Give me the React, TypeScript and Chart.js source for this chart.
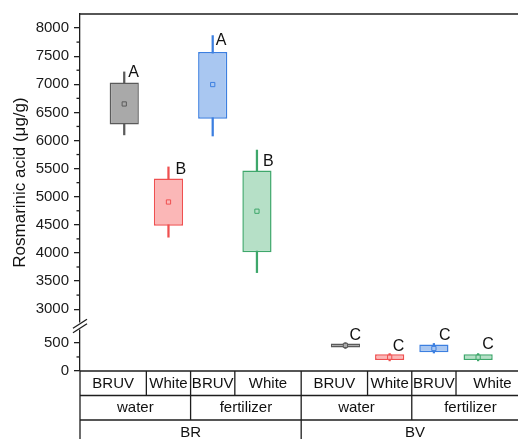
import { useEffect, useRef } from 'react';
import { Chart, registerables } from 'chart.js';

Chart.register(...registerables);

// ---------------- data ----------------
const categories = ['BRUV', 'White', 'BRUV', 'White', 'BRUV', 'White', 'BRUV', 'White'];
const treatments = ['water', 'water', 'fertilizer', 'fertilizer', 'water', 'water', 'fertilizer', 'fertilizer'];
const cultivars = ['BR', 'BR', 'BR', 'BR', 'BV', 'BV', 'BV', 'BV'];

const whiskerMin = [6100, 4280, 6080, 3650, 400, 180, 320, 180];
const boxLow = [6283, 4482, 6389, 4010, 420, 195, 335, 195];
const boxHigh = [7030, 5325, 7576, 5465, 490, 297, 470, 300];
const whiskerMax = [7220, 5530, 7866, 5830, 505, 310, 490, 310];
const means = [6650, 4906, 6995, 4742, 455, 245, 400, 245];
const letters = ['A', 'B', 'A', 'B', 'C', 'C', 'C', 'C'];

const yTopTicks = [3000, 3500, 4000, 4500, 5000, 5500, 6000, 6500, 7000, 7500, 8000];
const yTopMinor = [3250, 3750, 4250, 4750, 5250, 5750, 6250, 6750, 7250, 7750];
const yBotTicks = [0, 500];
const yBotMinor = [250];
const yTopRange = [2700, 8250];
const yBotRange = [0, 800];
const breakValue = 800;

const yTitle = 'Rosmarinic acid (μg/g)';

// ---------------- style ----------------
const FONT = '"Liberation Sans", Arial, Helvetica, sans-serif';
const INK = '#1e1e1e';
const fills = ['#a9a9a9', '#fbb7b7', '#a9c7f1', '#b6e0c7'];
const strokes = ['#5a5a5a', '#ef5050', '#3c7fe0', '#3ea76b'];
const LETTER_DX = [4, 7, 3, 6, 4, 3, 5, 4];
const LETTER_DY = [5, 7, 9, 16, -3, -3, -3, -5];
const ROW_H = 24.5;
const X_MAX = 10.15;

// x positions: one slot per category, with an empty slot between cultivar groups
const groupIndex: number[] = [];
cultivars.forEach((c, i) => {
  const prev = i === 0 ? 0 : groupIndex[i - 1] + (c !== cultivars[i - 1] ? 1 : 0);
  groupIndex.push(prev);
});
const xPos = categories.map((_, i) => i + 1 + groupIndex[i]);
const colorIdx = categories.map((_, i) => (treatments[i] === 'water' ? 0 : 2) + (categories[i] === 'White' ? 1 : 0));
const axisOf = (i: number) => (whiskerMax[i] > breakValue ? 'yTop' : 'yBot');

function makeDatasets(axis: string) {
  const idx = categories.map((_, i) => i).filter((i) => axisOf(i) === axis);
  return [
    {
      type: 'bar',
      yAxisID: axis,
      data: idx.map((i) => ({ x: xPos[i], y: [whiskerMin[i], whiskerMax[i]] })),
      backgroundColor: idx.map((i) => strokes[colorIdx[i]]),
      borderWidth: 0,
      barThickness: 1.6,
      grouped: false,
      order: 3,
    },
    {
      type: 'bar',
      yAxisID: axis,
      data: idx.map((i) => ({ x: xPos[i], y: [boxLow[i], boxHigh[i]] })),
      backgroundColor: idx.map((i) => fills[colorIdx[i]]),
      borderColor: idx.map((i) => strokes[colorIdx[i]]),
      borderWidth: 1.5,
      borderSkipped: false,
      barPercentage: 0.66,
      categoryPercentage: 1,
      grouped: false,
      order: 2,
    },
    {
      type: 'scatter',
      yAxisID: axis,
      data: idx.map((i) => ({ x: xPos[i], y: means[i] })),
      pointStyle: 'rect',
      radius: 3,
      borderWidth: 1,
      borderColor: idx.map((i) => strokes[colorIdx[i]]),
      backgroundColor: idx.map((i) => fills[colorIdx[i]]),
      order: 1,
    },
  ];
}

function cellRuns(labels: string[], parents: string[][]) {
  const runs: { label: string; a: number; b: number }[] = [];
  labels.forEach((l, i) => {
    const last = runs[runs.length - 1];
    const sameParent = i > 0 && parents.every((p) => p[i] === p[i - 1]);
    if (last && sameParent && labels[i - 1] === l) last.b = i;
    else runs.push({ label: l, a: i, b: i });
  });
  return runs;
}
const leftEdge = (i: number) => (i === 0 ? 0 : (xPos[i - 1] + xPos[i]) / 2);
const rightEdge = (i: number) => (i === xPos.length - 1 ? X_MAX : (xPos[i] + xPos[i + 1]) / 2);

const overlay = {
  id: 'overlay',
  afterDraw(chart: any) {
    const { ctx, chartArea: ca, scales } = chart;
    const xs = scales.x;
    const yT = scales.yTop;
    const yB = scales.yBot;
    ctx.save();
    ctx.strokeStyle = INK;
    ctx.lineWidth = 1.3;
    const line = (x1: number, y1: number, x2: number, y2: number) => {
      ctx.beginPath();
      ctx.moveTo(x1, y1);
      ctx.lineTo(x2, y2);
      ctx.stroke();
    };
    // top frame
    line(ca.left, ca.top, ca.right + 5, ca.top);
    // minor ticks
    yTopMinor.forEach((v) => {
      const py = yT.getPixelForValue(v);
      line(ca.left - 3.5, py, ca.left, py);
    });
    yBotMinor.forEach((v) => {
      const py = yB.getPixelForValue(v);
      line(ca.left - 3.5, py, ca.left, py);
    });
    // axis break
    const b = yT.bottom;
    ctx.fillStyle = '#ffffff';
    ctx.fillRect(ca.left - 2, b - 3.5, 4, 7);
    [-2.2, 2.2].forEach((o) => line(ca.left - 7, b + 4.5 + o, ca.left + 7, b - 4.5 + o));

    // table under the axis
    const top = ca.bottom;
    const rows = [
      cellRuns(categories, [treatments, cultivars]),
      cellRuns(treatments, [cultivars]),
      cellRuns(cultivars, []),
    ];
    for (let r = 0; r <= rows.length; r++) line(ca.left, top + r * ROW_H, ca.right + 5, top + r * ROW_H);
    line(ca.left, top, ca.left, top + rows.length * ROW_H + 10);
    ctx.fillStyle = '#111111';
    ctx.font = `15px ${FONT}`;
    ctx.textAlign = 'center';
    ctx.textBaseline = 'middle';
    rows.forEach((runs, r) => {
      const y0 = top + r * ROW_H;
      runs.forEach((run) => {
        const xa = xs.getPixelForValue(leftEdge(run.a));
        const xb = xs.getPixelForValue(rightEdge(run.b));
        if (run.a > 0) line(xa, y0, xa, y0 + ROW_H);
        ctx.fillText(run.label, (xa + xb) / 2, y0 + ROW_H / 2 + 0.5);
      });
    });

    // significance letters
    ctx.font = `16px ${FONT}`;
    ctx.textAlign = 'left';
    ctx.textBaseline = 'alphabetic';
    letters.forEach((l, i) => {
      const ys = axisOf(i) === 'yTop' ? yT : yB;
      ctx.fillText(l, xs.getPixelForValue(xPos[i]) + LETTER_DX[i], ys.getPixelForValue(whiskerMax[i]) + LETTER_DY[i]);
    });

    // y title
    ctx.save();
    ctx.translate(20, (ca.top + ca.bottom) / 2 - 10);
    ctx.rotate(-Math.PI / 2);
    ctx.textAlign = 'center';
    ctx.textBaseline = 'middle';
    ctx.font = `17px ${FONT}`;
    ctx.fillText(yTitle, 0, 0);
    ctx.restore();
    ctx.restore();
  },
};

function yAxis(range: number[], ticks: number[], weight: number) {
  return {
    type: 'linear',
    position: 'left',
    stack: 'y',
    stackWeight: weight,
    min: range[0],
    max: range[1],
    afterBuildTicks: (s: any) => {
      s.ticks = ticks.map((v) => ({ value: v }));
    },
    afterFit: (s: any) => {
      s.width = 80;
    },
    ticks: {
      font: { family: FONT, size: 15 },
      color: '#1a1a1a',
      padding: 5,
      autoSkip: false,
      callback: (v: any) => String(v),
    },
    grid: { drawOnChartArea: false, drawTicks: true, tickLength: 6, color: INK, lineWidth: 1.3 },
    border: { display: true, color: INK, width: 1.3 },
  };
}

export default function App() {
  const ref = useRef<HTMLCanvasElement>(null);
  useEffect(() => {
    if (!ref.current) return;
    const chart = new Chart(ref.current, {
      type: 'bar',
      data: { datasets: [...makeDatasets('yTop'), ...makeDatasets('yBot')] as any },
      options: {
        responsive: false,
        animation: false,
        events: [],
        layout: { padding: { top: 12, bottom: 79, left: 0, right: 1 } },
        plugins: { legend: { display: false }, tooltip: { enabled: false } },
        scales: {
          x: { type: 'linear', min: 0, max: X_MAX, offset: false, display: false },
          yBot: yAxis(yBotRange, yBotTicks, yBotRange[1] - yBotRange[0]),
          yTop: yAxis(yTopRange, yTopTicks, yTopRange[1] - yTopRange[0]),
        } as any,
      },
      plugins: [overlay],
    } as any);
    return () => chart.destroy();
  }, []);
  return (
    <div style={{ position: 'fixed', left: 0, top: 0, width: 518, height: 439, overflow: 'hidden', background: '#fff' }}>
      <canvas ref={ref} width={534} height={450} style={{ display: 'block', width: 534, height: 450 }} />
    </div>
  );
}
